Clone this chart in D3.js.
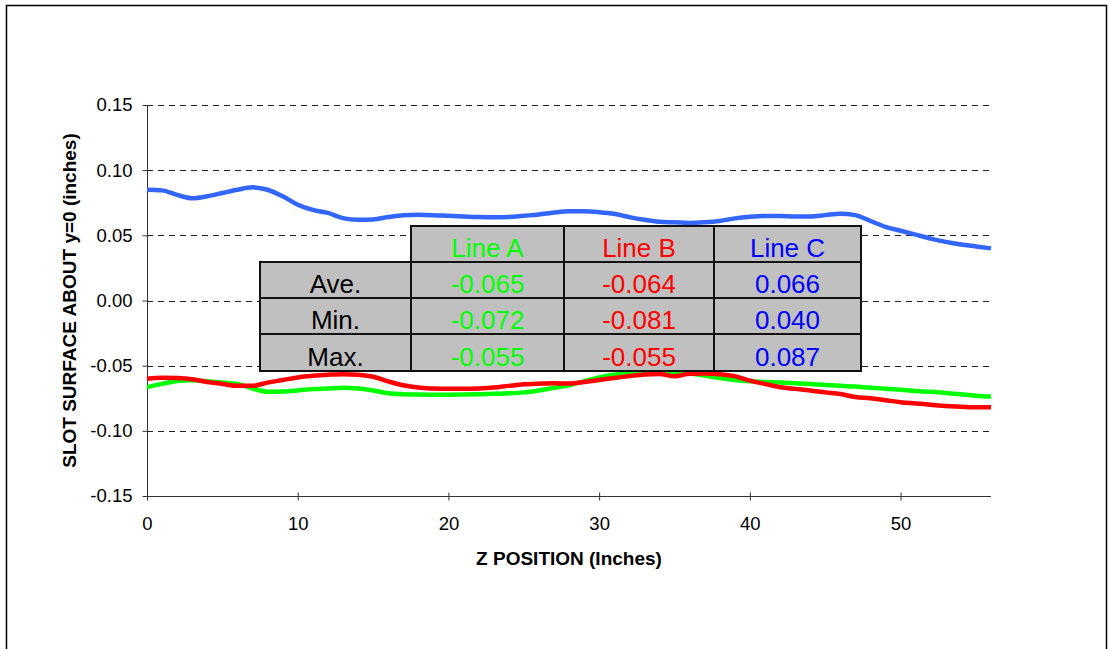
<!DOCTYPE html>
<html>
<head>
<meta charset="utf-8">
<script src="https://cdn.jsdelivr.net/npm/d3@7"></script>
<style>
  body { margin: 0; background: #fff; }
  text { font-family: "Liberation Sans", Arial, sans-serif; }
</style>
</head>
<body>
<div id="chart"></div>
<script>
const width = 1109,
      height = 649;

// z positions (inches) shared by all three lines
const zPos = [0, 1, 2, 3, 4, 5, 6, 7, 8, 9, 10, 11, 12, 13, 14, 15, 16, 17, 18, 19,
              20, 21, 22, 23, 24, 25, 26, 27, 28, 29, 30, 31, 32, 33, 34, 35, 36, 37, 38, 39,
              40, 41, 42, 43, 44, 45, 46, 47, 48, 49, 50, 51, 52, 53, 54, 55, 56];

const lineA = [-0.0665, -0.064, -0.0618, -0.0612, -0.062, -0.063, -0.064, -0.0675, -0.070, -0.0698,
               -0.069, -0.068, -0.0675, -0.067, -0.0675, -0.069, -0.0712, -0.072, -0.0722, -0.0723,
               -0.0723, -0.0722, -0.072, -0.0716, -0.0712, -0.0705, -0.069, -0.067, -0.065, -0.062,
               -0.059, -0.057, -0.0563, -0.0558, -0.0555, -0.0555, -0.056, -0.0575, -0.0595, -0.061,
               -0.062, -0.0625, -0.063, -0.0635, -0.064, -0.0648, -0.0655, -0.066, -0.067, -0.0677,
               -0.0685, -0.0695, -0.070, -0.071, -0.072, -0.073, -0.0737];

const lineB = [-0.060, -0.0592, -0.0595, -0.0605, -0.0625, -0.064, -0.0655, -0.0655, -0.063, -0.061,
               -0.059, -0.0578, -0.057, -0.0565, -0.057, -0.0585, -0.062, -0.065, -0.0668, -0.0675,
               -0.0678, -0.0678, -0.0675, -0.0668, -0.0655, -0.0643, -0.0638, -0.0635, -0.0637, -0.0625,
               -0.061, -0.0595, -0.058, -0.0567, -0.0563, -0.0582, -0.0562, -0.056, -0.0565, -0.058,
               -0.0615, -0.064, -0.0665, -0.0678, -0.069, -0.0705, -0.0718, -0.074, -0.075, -0.0765,
               -0.078, -0.079, -0.080, -0.081, -0.0815, -0.082, -0.082];

const lineC = [0.085, 0.0845, 0.081, 0.0785, 0.080, 0.0825, 0.085, 0.0868, 0.085, 0.080,
               0.0735, 0.0695, 0.0672, 0.0632, 0.062, 0.0622, 0.064, 0.0655, 0.0657, 0.0655,
               0.065, 0.0645, 0.064, 0.0638, 0.064, 0.065, 0.066, 0.0675, 0.0685, 0.0685,
               0.0678, 0.0665, 0.064, 0.062, 0.0605, 0.060, 0.0595, 0.060, 0.061, 0.063,
               0.0642, 0.0648, 0.0648, 0.0645, 0.0645, 0.0655, 0.0665, 0.0655, 0.061, 0.0565,
               0.0535, 0.0505, 0.0475, 0.045, 0.043, 0.0415, 0.040];

const seriesNames = ['Line A', 'Line B', 'Line C'];
const seriesColors = ['#00ff00', '#ff0000', '#3366ff'];
const headerColors = ['#00ff00', '#ff0000', '#0000ff'];

const statLabels = ['Ave.', 'Min.', 'Max.'];
const statA = ['-0.065', '-0.072', '-0.055'];
const statB = ['-0.064', '-0.081', '-0.055'];
const statC = ['0.066', '0.040', '0.087'];

const yTicks = [0.15, 0.10, 0.05, 0.00, -0.05, -0.10, -0.15];
const xTicks = [0, 10, 20, 30, 40, 50];

const margin = { left: 147, right: 118, top: 105, bottom: 153 };

const svg = d3.select('#chart')
              .append('svg')
              .attr('width', width)
              .attr('height', height);

// outer chart border
svg.append('rect')
   .attr('x', 6.5)
   .attr('y', 5.5)
   .attr('width', 1100)
   .attr('height', 700)
   .attr('fill', 'none')
   .attr('stroke', '#000')
   .attr('stroke-width', 1.5);

const xScale = d3.scaleLinear()
                 .domain([0, 56])
                 .range([margin.left, width - margin.right]);

const yScale = d3.scaleLinear()
                 .domain([-0.15, 0.15])
                 .range([height - margin.bottom, margin.top]);

// dashed gridlines
svg.append('g')
   .selectAll('line')
   .data(yTicks.filter(d => d > -0.15))
   .enter()
   .append('line')
   .attr('x1', xScale(0))
   .attr('x2', xScale(56))
   .attr('y1', d => Math.round(yScale(d)) + 0.5)
   .attr('y2', d => Math.round(yScale(d)) + 0.5)
   .attr('stroke', '#222')
   .attr('stroke-dasharray', '6,5');

// plain hyphen for negatives, like the original
const fmt2 = d => d.toFixed(2);

const yAxis = d3.axisLeft(yScale)
                .tickValues(yTicks)
                .tickSize(5)
                .tickPadding(10)
                .tickFormat(fmt2);

const yAxisGroup = svg.append('g')
                      .attr('transform', 'translate(' + (margin.left + 0.5) + ',0)')
                      .call(yAxis);

const xAxis = d3.axisBottom(xScale)
                .tickValues(xTicks)
                .tickSize(4)
                .tickPadding(16)
                .tickFormat(d3.format('d'));

const xAxisGroup = svg.append('g')
                      .attr('transform', 'translate(0,' + (Math.round(yScale(-0.15)) + 0.5) + ')')
                      .call(xAxis);

xAxisGroup.selectAll('.tick line').attr('y1', -4);

[yAxisGroup, xAxisGroup].forEach(function(g) {
  g.select('.domain').attr('stroke', '#333');
  g.selectAll('.tick line').attr('stroke', '#333');
  g.selectAll('text')
   .attr('font-family', '"Liberation Sans", Arial, sans-serif')
   .attr('font-size', 18.5)
   .attr('fill', '#000');
});

// x axis domain without the end stubs
xAxisGroup.select('.domain')
          .attr('d', 'M' + xScale(0) + ',0H' + xScale(56));
yAxisGroup.select('.domain')
          .attr('d', 'M0,' + yScale(0.15) + 'V' + yScale(-0.15));

// lines
const line = d3.line()
               .x((d, i) => xScale(zPos[i]))
               .y(d => yScale(d))
               .curve(d3.curveMonotoneX);

[lineA, lineB, lineC].forEach(function(vals, i) {
  svg.append('path')
     .datum(vals)
     .attr('d', line)
     .attr('fill', 'none')
     .attr('stroke', seriesColors[i])
     .attr('stroke-width', 4.5)
     .attr('stroke-linejoin', 'round');
});

// axis titles
svg.append('text')
   .attr('x', xScale(28))
   .attr('y', 565)
   .attr('text-anchor', 'middle')
   .attr('font-size', 19)
   .attr('font-weight', 'bold')
   .text('Z POSITION (Inches)');

svg.append('text')
   .attr('transform', 'translate(76,' + yScale(0) + ') rotate(-90)')
   .attr('text-anchor', 'middle')
   .attr('font-size', 19)
   .attr('font-weight', 'bold')
   .text('SLOT SURFACE ABOUT y=0 (inches)');

// statistics table
const colEdges = [260, 411, 564, 714, 861],
      rowEdges = [226, 262, 298, 334, 371];

const table = svg.append('g');
const statCols = [statA, statB, statC];

// header cells
seriesNames.forEach(function(name, c) {
  table.append('rect')
       .attr('x', colEdges[c + 1])
       .attr('y', rowEdges[0])
       .attr('width', colEdges[c + 2] - colEdges[c + 1])
       .attr('height', rowEdges[1] - rowEdges[0])
       .attr('fill', '#c0c0c0')
       .attr('stroke', '#111')
       .attr('stroke-width', 2);
  table.append('text')
       .attr('x', (colEdges[c + 1] + colEdges[c + 2]) / 2)
       .attr('y', rowEdges[1] - 5)
       .attr('text-anchor', 'middle')
       .attr('font-size', 26)
       .attr('fill', headerColors[c])
       .text(name);
});

statLabels.forEach(function(label, r) {
  const y0 = rowEdges[r + 1],
        y1 = rowEdges[r + 2];
  for (let c = 0; c < 4; c++) {
    table.append('rect')
         .attr('x', colEdges[c])
         .attr('y', y0)
         .attr('width', colEdges[c + 1] - colEdges[c])
         .attr('height', y1 - y0)
         .attr('fill', '#c0c0c0')
         .attr('stroke', '#111')
         .attr('stroke-width', 2);
    table.append('text')
         .attr('x', (colEdges[c] + colEdges[c + 1]) / 2)
         .attr('y', y1 - 5)
         .attr('text-anchor', 'middle')
         .attr('font-size', 26)
         .attr('fill', c === 0 ? '#000' : headerColors[c - 1])
         .text(c === 0 ? label : statCols[c - 1][r]);
  }
});
</script>
</body>
</html>
